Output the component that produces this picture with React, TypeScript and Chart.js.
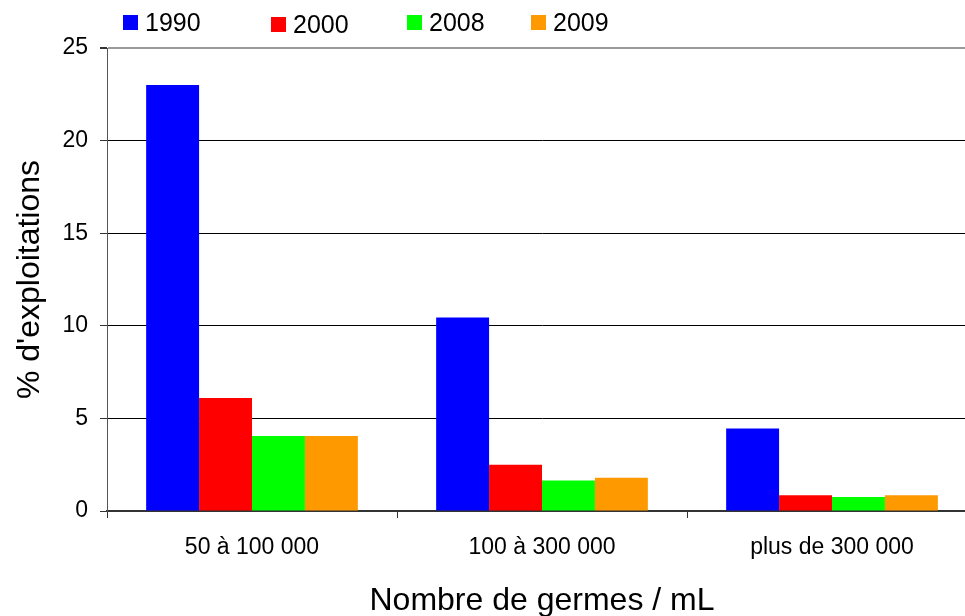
import React, { useEffect, useRef } from "react";
import { Chart, registerables } from "chart.js";

Chart.register(...registerables);

const categories = ["50 à 100 000", "100 à 300 000", "plus de 300 000"];
const seriesLabels = ["1990", "2000", "2008", "2009"];
const values1990 = [23.0, 10.45, 4.45];
const values2000 = [6.1, 2.5, 0.85];
const values2008 = [4.05, 1.65, 0.75];
const values2009 = [4.05, 1.8, 0.85];
const colors = ["#0000FF", "#FF0000", "#00FF00", "#FF9900"];
const yTicks = [0, 5, 10, 15, 20, 25];

const FONT = "'Liberation Sans', Arial, sans-serif";

const legendPos = [
  { x: 123, y: 15 },
  { x: 271, y: 17 },
  { x: 407, y: 15 },
  { x: 531, y: 15 },
];

const legendPlugin = {
  id: "customLegend",
  afterDraw(chart: any) {
    const ctx = chart.ctx;
    ctx.save();
    chart.data.datasets.forEach((ds: any, i: number) => {
      const p = legendPos[i];
      ctx.fillStyle = ds.backgroundColor;
      ctx.fillRect(p.x, p.y, 15, 15);
      ctx.fillStyle = "#000";
      ctx.font = "25px " + FONT;
      ctx.textBaseline = "middle";
      ctx.textAlign = "left";
      ctx.fillText(ds.label, p.x + 22, p.y + 9);
    });
    ctx.restore();
  },
};

export default function App() {
  const ref = useRef<HTMLCanvasElement>(null);
  useEffect(() => {
    if (!ref.current) return;
    const all = [values1990, values2000, values2008, values2009];
    const chart = new Chart(ref.current, {
      type: "bar",
      data: {
        labels: categories,
        datasets: seriesLabels.map((l, i) => ({
          label: l,
          data: all[i],
          backgroundColor: colors[i],
          borderWidth: 0,
          barPercentage: 1,
          categoryPercentage: 0.73,
        })),
      },
      options: {
        animation: false,
        responsive: false,
        layout: { padding: { top: 48, right: 13, left: 0, bottom: 0 } },
        plugins: { legend: { display: false }, tooltip: { enabled: false } },
        scales: {
          x: {
            grid: {
              display: true,
              drawOnChartArea: false,
              drawTicks: true,
              offset: true,
              tickLength: 7,
              color: "#333",
            },
            border: { display: true, color: "#333", width: 2 },
            ticks: {
              color: "#000",
              padding: 16,
              font: { family: FONT, size: 23 },
            },
            title: {
              display: true,
              text: "Nombre de germes / mL",
              color: "#000",
              font: { family: FONT, size: 32 },
              padding: { top: 0, bottom: -4 },
            },
            afterFit(scale: any) {
              scale.height = 105;
            },
          },
          y: {
            min: 0,
            max: 25,
            afterBuildTicks(scale: any) {
              scale.ticks = yTicks.map((v) => ({ value: v }));
            },
            grid: {
              color: (c: any) => (c.tick && c.tick.value === 25 ? "#999" : "#000"),
              lineWidth: (c: any) => (c.tick && c.tick.value === 25 ? 2 : 1),
              tickLength: 7,
              tickColor: "#333",
            },
            border: { display: true, color: "#555", width: 1 },
            ticks: {
              color: "#000",
              padding: 12,
              font: { family: FONT, size: 23 },
            },
            title: {
              display: true,
              text: "% d'exploitations",
              color: "#000",
              font: { family: FONT, size: 32 },
              padding: { top: 11, bottom: 0 },
            },
            afterFit(scale: any) {
              scale.width = 107;
            },
          },
        },
      },
      plugins: [legendPlugin],
    });
    return () => chart.destroy();
  }, []);
  return (
    <div style={{ position: "fixed", left: 0, top: 0, width: 990, height: 616, background: "#fff" }}>
      <canvas ref={ref} width={990} height={616} />
    </div>
  );
}
